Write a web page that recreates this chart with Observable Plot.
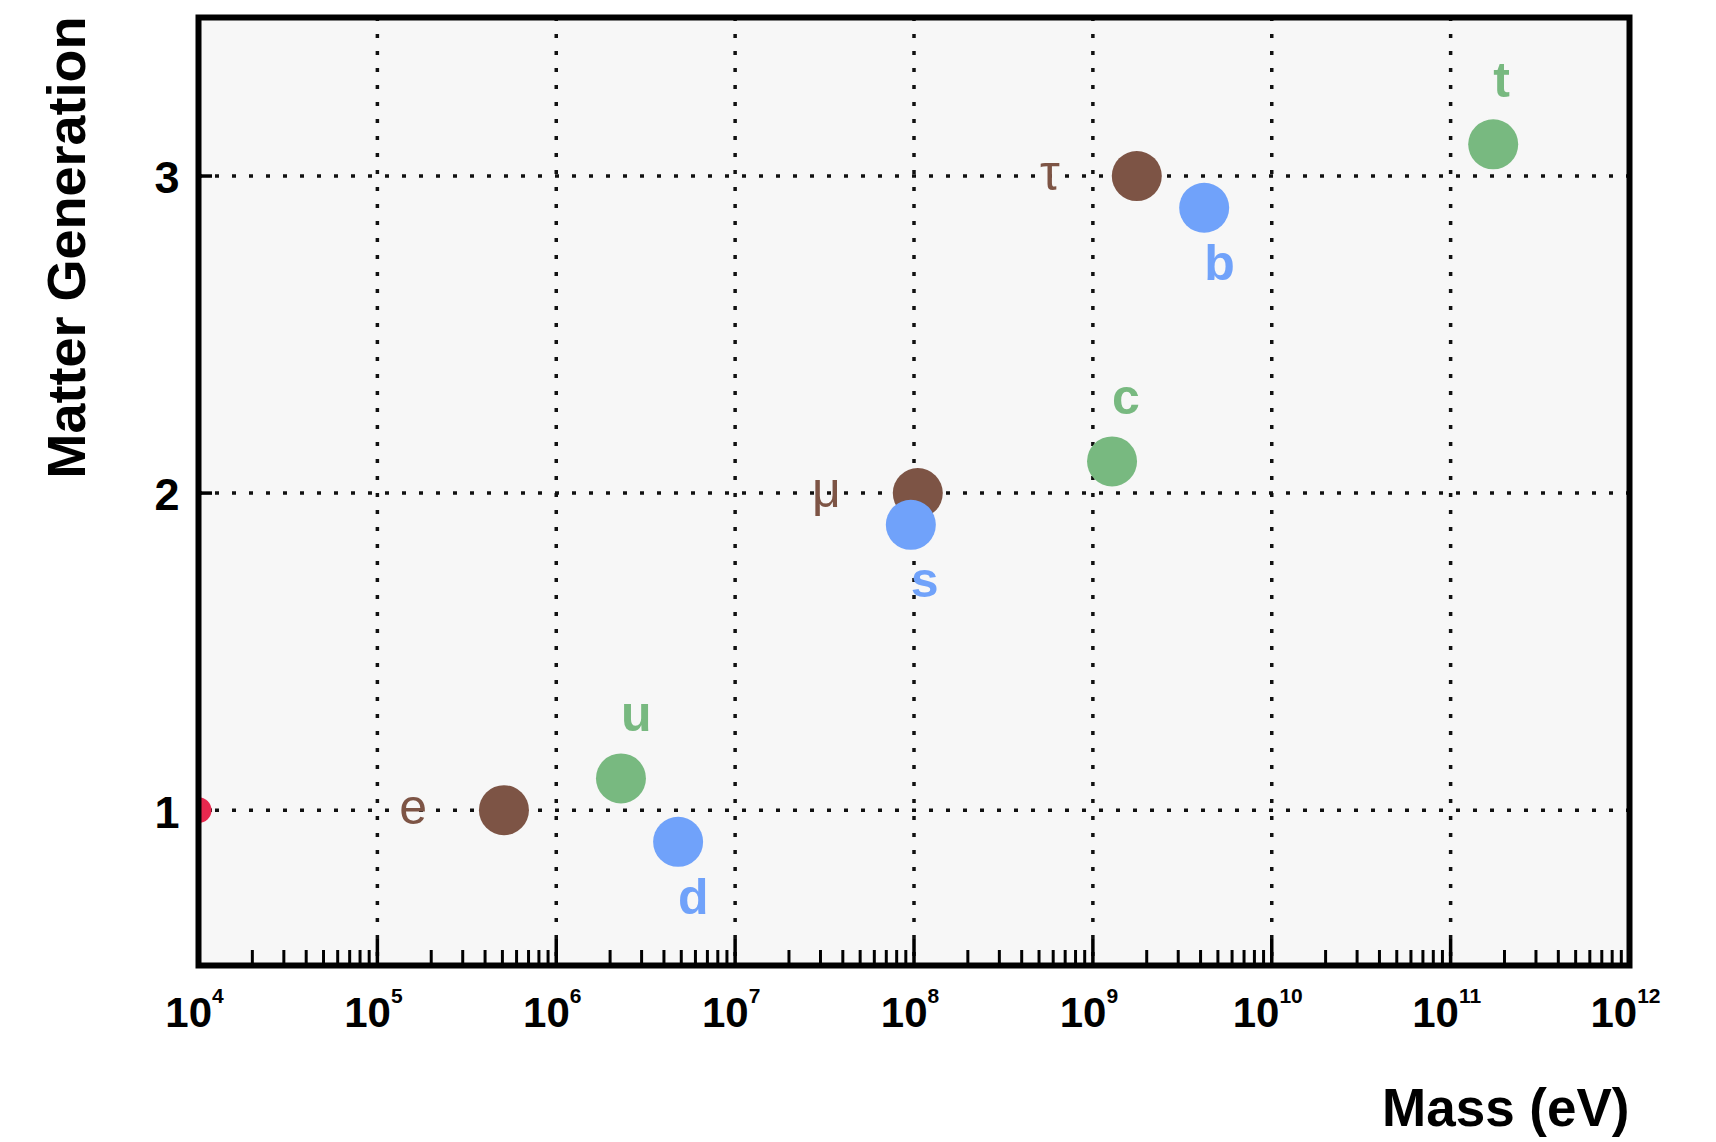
<!DOCTYPE html>
<html><head><meta charset="utf-8">
<script src="https://cdn.jsdelivr.net/npm/d3@7"></script>
<script src="https://cdn.jsdelivr.net/npm/@observablehq/plot@0.6"></script>
<style>body{margin:0;background:#fff}</style>
</head><body><div id="chart"></div>
<script>
// ---- data ----
const particles   = ["e", "u", "d", "μ", "s", "c", "τ", "b", "t"];
const masses      = [5.1e5, 2.3e6, 4.8e6, 1.05e8, 9.6e7, 1.28e9, 1.76e9, 4.19e9, 1.73e11]; // eV
const generations = [1, 1.1, 0.9, 2, 1.9, 2.1, 3, 2.9, 3.1];
const kinds       = ["lepton", "up", "down", "lepton", "down", "up", "lepton", "down", "up"];
const kindNames   = ["lepton", "up", "down"];
const kindColors  = ["#7d5445", "#78b980", "#70a2fa"];
const markerMass  = [1e4];   // red marker at the left edge
const markerGen   = [1];
const xTickExponents = [4, 5, 6, 7, 8, 9, 10, 11, 12];
const yTicks = [1, 2, 3];

const rows = particles.map((p, i) => ({particle: p, mass: masses[i], generation: generations[i], kind: kinds[i]}));
const marker = markerMass.map((m, i) => ({mass: m, generation: markerGen[i]}));

const W = 1716, H = 1142, mt = 17, mb = 177, ml = 198, mr = 87;
const innerH = H - mt - mb, innerW = W - ml - mr;
const decades = xTickExponents.map(e => 10 ** e);
const gridDecades = decades.slice(1, -1);
const minorTicks = [];
for (const k of xTickExponents.slice(0, -1)) for (let m = 2; m <= 9; m++) minorTicks.push(m * 10 ** k);

const dotted = {stroke: "#111", strokeWidth: 3.5, strokeDasharray: "4,13"};
const font = "'Liberation Sans', Arial, Helvetica, sans-serif";

const chart = Plot.plot({
  width: W, height: H,
  marginTop: mt, marginBottom: mb, marginLeft: ml, marginRight: mr,
  style: {background: "white", fontFamily: font},
  x: {type: "log", domain: [1e4, 1e12]},
  y: {domain: [0.51, 3.5]},
  color: {domain: kindNames, range: kindColors},
  marks: [
    Plot.frame({fill: "#f7f7f7"}),
    Plot.ruleX(gridDecades, dotted),
    Plot.ruleY(yTicks, dotted),
    Plot.tickX(minorTicks, {x: d => d, insetTop: innerH - 15, stroke: "#000", strokeWidth: 3}),
    Plot.tickX(decades, {x: d => d, insetTop: innerH - 26, stroke: "#000", strokeWidth: 3.5}),
    Plot.tickY(yTicks, {y: d => d, insetRight: innerW - 14, stroke: "#000", strokeWidth: 3.5}),
    Plot.dot(marker, {x: "mass", y: "generation", r: 13, fill: "#e8284e", clip: true}),
    Plot.dot(rows, {x: "mass", y: "generation", r: 25, fill: "kind"}),
    // leptons: label to the left
    Plot.text(rows.filter(d => d.kind === "lepton"), {x: "mass", y: "generation", text: "particle", fill: "kind",
      textAnchor: "end", lineAnchor: "bottom", dx: -77, dy: 14, fontSize: 50}),
    // up-type quarks: label above
    Plot.text(rows.filter(d => d.kind === "up"), {x: "mass", y: "generation", text: "particle", fill: "kind",
      textAnchor: "start", lineAnchor: "bottom", dx: 0, dy: -47, fontSize: 50, fontWeight: "bold"}),
    // down-type quarks: label below
    Plot.text(rows.filter(d => d.kind === "down"), {x: "mass", y: "generation", text: "particle", fill: "kind",
      textAnchor: "start", lineAnchor: "bottom", dx: 0, dy: 72, fontSize: 50, fontWeight: "bold"}),
    Plot.frame({stroke: "#000", strokeWidth: 6}),
    Plot.axisX({ticks: decades, tickFormat: d => String(Math.round(Math.log10(d))), tickSize: 0, tickPadding: 32,
      dx: -4, fontSize: 42, fontWeight: "bold", fill: "#000", label: null}),
    Plot.axisY({ticks: yTicks, tickFormat: d => String(d), tickSize: 0, tickPadding: 19, dy: 3,
      fontSize: 45, fontWeight: "bold", fill: "#000", label: null}),
    Plot.text(["Mass (eV)"], {text: d => d, frameAnchor: "bottom-right", textAnchor: "end", lineAnchor: "bottom",
      dy: 160, fontSize: 53, fontWeight: "bold", fill: "#000"}),
    Plot.text(["Matter Generation"], {text: d => d, frameAnchor: "top-left", rotate: -90, textAnchor: "end",
      lineAnchor: "bottom", dx: -114, dy: -1, fontSize: 54, fontWeight: "bold", fill: "#000"})
  ]
});

// turn exponent tick labels into 10^n with a superscript
d3.select(chart).selectAll('g[aria-label="x-axis tick label"] text').each(function () {
  const e = this.textContent;
  const t = d3.select(this);
  t.text(null);
  t.append("tspan").text("10");
  t.append("tspan").attr("dy", -24).attr("font-size", 21).text(e);
});

document.getElementById("chart").appendChild(chart);
</script>
</body></html>
